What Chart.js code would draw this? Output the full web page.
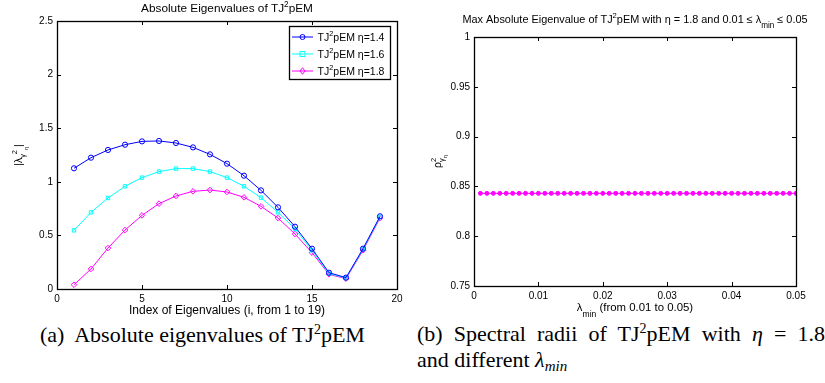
<!DOCTYPE html>
<html>
<head>
<meta charset="utf-8">
<script src="https://cdn.jsdelivr.net/npm/chart.js@4.4.1/dist/chart.umd.min.js"></script>
<style>
  body { margin: 0; background: #fff; width: 825px; height: 383px; position: relative; overflow: hidden; }
  #c1 { position: absolute; left: 0; top: 0; }
  #c2 { position: absolute; left: 420px; top: 0; }
  .cap { position: absolute; font-family: "Liberation Serif", "Times New Roman", serif; font-size: 22px; line-height: 26px; color: #000; white-space: nowrap; }
  .sup { font-size: 14px; position: relative; top: -8px; }
  .sub { font-size: 15px; position: relative; top: 4px; }
</style>
</head>
<body>
<canvas id="c1" width="415" height="318"></canvas>
<canvas id="c2" width="405" height="318"></canvas>
<div class="cap" style="left:40px;top:322px">(a)&nbsp; Absolute eigenvalues of TJ<span class="sup">2</span>pEM</div>
<div class="cap" style="left:417px;top:321px;width:408px;text-align:justify;text-align-last:justify">(b) Spectral radii of TJ<span class="sup">2</span>pEM with <i>η</i> = 1.8</div>
<div class="cap" style="left:417px;top:347px">and different <i>λ</i><span class="sub"><i>min</i></span></div>
<script>
// --- left panel: absolute eigenvalues ---
const idx = [1, 2, 3, 4, 5, 6, 7, 8, 9, 10, 11, 12, 13, 14, 15, 16, 17, 18, 19];
const eta14 = [1.126, 1.225, 1.297, 1.346, 1.377, 1.381, 1.362, 1.321, 1.256, 1.169, 1.057, 0.920, 0.762, 0.581, 0.376, 0.152, 0.106, 0.376, 0.678];
const eta16 = [0.547, 0.715, 0.849, 0.958, 1.039, 1.095, 1.123, 1.123, 1.095, 1.039, 0.958, 0.852, 0.715, 0.560, 0.361, 0.143, 0.103, 0.370, 0.672];
const eta18 = [0.040, 0.187, 0.382, 0.550, 0.687, 0.796, 0.868, 0.911, 0.923, 0.905, 0.855, 0.771, 0.662, 0.513, 0.339, 0.137, 0.096, 0.361, 0.662];
const seriesNames = ["1.4", "1.6", "1.8"];
const xTicksA = [0, 5, 10, 15, 20];
const yTicksA = [0, 0.5, 1, 1.5, 2, 2.5];

// --- right panel: spectral radius vs lambda_min ---
const lamMin = [0.001, 0.002, 0.003, 0.004, 0.005, 0.006, 0.007, 0.008, 0.009, 0.010,
  0.011, 0.012, 0.013, 0.014, 0.015, 0.016, 0.017, 0.018, 0.019, 0.020,
  0.021, 0.022, 0.023, 0.024, 0.025, 0.026, 0.027, 0.028, 0.029, 0.030,
  0.031, 0.032, 0.033, 0.034, 0.035, 0.036, 0.037, 0.038, 0.039, 0.040,
  0.041, 0.042, 0.043, 0.044, 0.045, 0.046, 0.047, 0.048, 0.049, 0.050];
const rhoMax = [0.843, 0.843, 0.843, 0.843, 0.843, 0.843, 0.843, 0.843, 0.843, 0.843,
  0.843, 0.843, 0.843, 0.843, 0.843, 0.843, 0.843, 0.843, 0.843, 0.843,
  0.843, 0.843, 0.843, 0.843, 0.843, 0.843, 0.843, 0.843, 0.843, 0.843,
  0.843, 0.843, 0.843, 0.843, 0.843, 0.843, 0.843, 0.843, 0.843, 0.843,
  0.843, 0.843, 0.843, 0.843, 0.843, 0.843, 0.843, 0.843, 0.843, 0.843];
const xTicksB = [0, 0.01, 0.02, 0.03, 0.04, 0.05];
const yTicksB = [0.75, 0.8, 0.85, 0.9, 0.95, 1];

const FONT = '"Liberation Sans", Arial, Helvetica, sans-serif';
const font = (px) => px + "px " + FONT;

const N = (t) => ({ t });
const SUP = (t, stay) => ({ t, s: 0.7, dy: -0.45, stay });
const SUB = (t, stay) => ({ t, s: 0.7, dy: 0.35, stay });
const SUB2 = (t) => ({ t, s: 0.55, dy: 0.6 });

// text with sub/superscripts, centred on (x, y)
function richText(ctx, segs, x, y, rot, size) {
  ctx.save();
  ctx.translate(x, y);
  if (rot) ctx.rotate(rot);
  ctx.fillStyle = "#000";
  ctx.textBaseline = "alphabetic";
  ctx.textAlign = "left";
  let w = 0;
  segs.forEach((s) => {
    ctx.font = font(size * (s.s || 1));
    s.w = ctx.measureText(s.t).width;
    if (!s.stay) w += s.w;
  });
  let cx = -w / 2;
  segs.forEach((s) => {
    ctx.font = font(size * (s.s || 1));
    ctx.fillText(s.t, cx, size * 0.36 + (s.dy || 0) * size);
    if (!s.stay) cx += s.w;
  });
  ctx.restore();
}

function drawMarker(ctx, style, x, y, r, color, fill) {
  ctx.save();
  ctx.strokeStyle = color;
  ctx.fillStyle = color;
  ctx.lineWidth = 1;
  ctx.beginPath();
  if (style === "circle") ctx.arc(x, y, r, 0, Math.PI * 2);
  else if (style === "rect") ctx.rect(x - r, y - r, 2 * r, 2 * r);
  else { ctx.moveTo(x, y - r * 1.3); ctx.lineTo(x + r, y); ctx.lineTo(x, y + r * 1.3); ctx.lineTo(x - r, y); ctx.closePath(); }
  if (fill) ctx.fill();
  ctx.stroke();
  ctx.restore();
}

// MATLAB-style box with inward ticks, titles and optional legend
const matlabFrame = {
  id: "matlabFrame",
  afterDraw(chart, args, o) {
    const ctx = chart.ctx;
    const a = chart.chartArea;
    const sx = chart.scales.x, sy = chart.scales.y;
    ctx.save();
    ctx.strokeStyle = "#000";
    ctx.lineWidth = 1;
    ctx.beginPath();
    sx.ticks.forEach((t) => {
      const p = Math.round(sx.getPixelForValue(t.value)) + 0.5;
      ctx.moveTo(p, a.bottom); ctx.lineTo(p, a.bottom - 4);
      ctx.moveTo(p, a.top); ctx.lineTo(p, a.top + 4);
    });
    sy.ticks.forEach((t) => {
      const p = Math.round(sy.getPixelForValue(t.value)) + 0.5;
      ctx.moveTo(a.left, p); ctx.lineTo(a.left + 4, p);
      ctx.moveTo(a.right, p); ctx.lineTo(a.right - 4, p);
    });
    ctx.stroke();
    ctx.lineWidth = 1.3;
    ctx.strokeRect(Math.round(a.left) + 0.5, Math.round(a.top) + 0.5, Math.round(a.right - a.left), Math.round(a.bottom - a.top));
    ctx.restore();

    const cx = (a.left + a.right) / 2, cy = (a.top + a.bottom) / 2;
    richText(ctx, o.title, cx, a.top + o.titleDy, 0, o.titleSize);
    richText(ctx, o.xTitle, cx, a.bottom + o.xTitleDy, 0, o.xTitleSize);
    richText(ctx, o.yTitle, a.left + o.yTitleDx, cy, -Math.PI / 2, 10.5);

    if (o.legend) {
      const bx = a.right - 108, by = a.top + 5, bw = 101, bh = 53;
      ctx.save();
      ctx.fillStyle = "#fff";
      ctx.fillRect(bx, by, bw, bh);
      ctx.strokeStyle = "#000";
      ctx.lineWidth = 1.3;
      ctx.strokeRect(bx + 0.5, by + 0.5, bw, bh);
      chart.data.datasets.forEach((ds, i) => {
        const ly = by + 11 + i * 17;
        ctx.strokeStyle = ds.borderColor;
        ctx.lineWidth = 1;
        ctx.beginPath(); ctx.moveTo(bx + 3, ly); ctx.lineTo(bx + 24, ly); ctx.stroke();
        drawMarker(ctx, ds.pointStyle, bx + 13.5, ly, 2.5, ds.borderColor, false);
        richText(ctx, [N("TJ"), SUP("2"), N("pEM \u03b7=" + seriesNames[i])], bx + 62, ly, 0, 10.5);
      });
      ctx.restore();
    }
  }
};

function linearAxis(ticks, size, isX) {
  return {
    type: "linear",
    min: ticks[0],
    max: ticks[ticks.length - 1],
    afterBuildTicks: (s) => { s.ticks = ticks.map((v) => ({ value: v })); },
    afterFit: (s) => { if (isX) s.height = size; else s.width = size; },
    grid: { display: false, drawTicks: false },
    border: { display: false },
    ticks: {
      color: "#000",
      font: { family: FONT, size: 10 },
      padding: 4,
      maxRotation: 0,
      autoSkip: false,
      callback: (v) => String(v)
    }
  };
}

function lineSet(values, xs, color, style, fill, r) {
  return {
    data: xs.map((x, i) => ({ x, y: values[i] })),
    borderColor: color,
    backgroundColor: fill ? color : "rgba(0,0,0,0)",
    borderWidth: 1,
    pointStyle: style,
    pointRadius: r,
    pointBorderWidth: 1,
    pointBorderColor: color,
    pointBackgroundColor: fill ? color : "rgba(0,0,0,0)",
    tension: 0
  };
}

new Chart(document.getElementById("c1"), {
  type: "line",
  data: {
    datasets: [
      lineSet(eta14, idx, "#0000ff", "circle", false, 2.6),
      lineSet(eta16, idx, "#00ffff", "rect", false, 2.4),
      lineSet(eta18, idx, "#ff00ff", "rectRot", false, 2.8)
    ]
  },
  options: {
    responsive: false,
    animation: false,
    devicePixelRatio: 1,
    layout: { padding: { top: 21, right: 18, left: 0, bottom: 0 } },
    scales: { x: linearAxis(xTicksA, 29, true), y: linearAxis(yTicksA, 57, false) },
    plugins: {
      legend: { display: false },
      tooltip: { enabled: false },
      matlabFrame: {
        title: [N("Absolute Eigenvalues of TJ"), SUP("2"), N("pEM")],
        titleDy: -13,
        titleSize: 11.8,
        xTitle: [N("Index of Eigenvalues (i, from 1 to 19)")],
        xTitleDy: 21,
        xTitleSize: 12,
        yTitle: [N("|\u03bb"), SUB("\u03b3"), SUP("2"), SUB2("\u03b7"), N("|")],
        yTitleDx: -39,
        legend: true
      }
    }
  },
  plugins: [matlabFrame]
});

new Chart(document.getElementById("c2"), {
  type: "line",
  data: { datasets: [lineSet(rhoMax, lamMin, "#ff00ff", "circle", true, 2)] },
  options: {
    responsive: false,
    animation: false,
    devicePixelRatio: 1,
    layout: { padding: { top: 37, right: 29, left: 0, bottom: 0 } },
    scales: { x: linearAxis(xTicksB, 32, true), y: linearAxis(yTicksB, 54, false) },
    plugins: {
      legend: { display: false },
      tooltip: { enabled: false },
      matlabFrame: {
        title: [N("Max Absolute Eigenvalue of TJ"), SUP("2"), N("pEM with \u03b7 = 1.8 and 0.01 \u2264 \u03bb"), { t: "min", s: 0.75, dy: 0.5 }, N(" \u2264 0.05")],
        titleDy: -18,
        titleSize: 10.9,
        xTitle: [N("\u03bb"), { t: "min", s: 0.75, dy: 0.5 }, N(" (from 0.01 to 0.05)")],
        xTitleDy: 21,
        xTitleSize: 11.4,
        yTitle: [N("\u03c1"), SUP("2", true), SUB("\u03b3"), SUB2("\u03b7")],
        yTitleDx: -37,
        legend: false
      }
    }
  },
  plugins: [matlabFrame]
});
</script>
</body>
</html>
